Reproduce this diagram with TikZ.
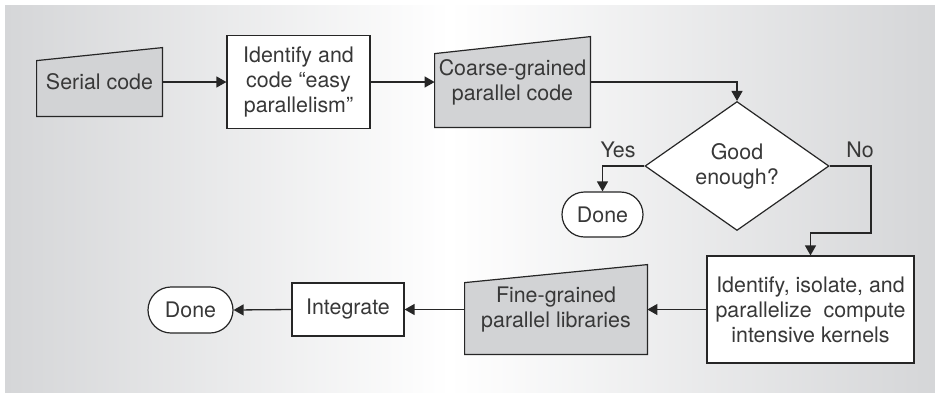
\documentclass[tikz,border=0pt]{standalone}
\usepackage{fontspec}
\setmainfont{TeX Gyre Heros}
\usetikzlibrary{arrows.meta,shapes.geometric,shapes.misc}
\definecolor{panelgray}{HTML}{D5D6D8}
\definecolor{datagray}{HTML}{D2D3D5}
\definecolor{txt}{HTML}{383838}
\pgfdeclarelayer{panel}
\pgfdeclarelayer{outline}
\pgfsetlayers{panel,outline,main}
\tikzset{
  every node/.style={font=\fontsize{10.7pt}{12.5pt}\selectfont, text=txt},
  conn/.style={draw=black!85, line width=0.65pt, -{Triangle[length=5pt,width=5.5pt]}},
  procbox/.style={draw=black!85, fill=white, line width=0.6pt, align=center, inner sep=0pt},
  datanode/.style={align=center, inner sep=0pt},
  dataoutline/.style={draw=black!85, fill=datagray, line width=0.6pt},
  termnode/.style={rounded rectangle, draw=black!85, fill=white, line width=0.6pt, inner sep=0pt},
  decision/.style={diamond, draw=black!85, fill=white, line width=0.6pt, align=center, inner sep=0pt},
  lbl/.style={inner sep=0pt}
}
\begin{document}
\begin{tikzpicture}[x=0.5pt,y=-0.5pt]
\useasboundingbox (0,0) rectangle (935,392);
% background panel: grey at both sides, fading to white in the middle
\begin{pgfonlayer}{panel}
\shade[left color=panelgray, right color=white] (5,5) rectangle (450,392);
\shade[left color=white, right color=panelgray] (449,5) rectangle (935,392);
\end{pgfonlayer}

% data (manual-input) nodes; their slanted outlines are drawn below
\node[datanode, minimum width=62.5pt, minimum height=34pt] (serial) at (99.5,82) {Serial code};
\node[datanode, minimum width=77.5pt, minimum height=45pt] (coarse) at (512.5,82) {Coarse-grained\\parallel code};
\node[datanode, minimum width=91pt, minimum height=44.5pt] (fine) at (556,309.5) {Fine-grained\\parallel libraries};

\begin{pgfonlayer}{outline}
\draw[dataoutline] (serial.south west) -- (serial.south east) -- (serial.north east) -- ([yshift=-6.5pt]serial.north west) -- cycle;
\draw[dataoutline] (coarse.south west) -- (coarse.south east) -- (coarse.north east) -- ([yshift=-8.5pt]coarse.north west) -- cycle;
\draw[dataoutline] (fine.south west) -- (fine.south east) -- (fine.north east) -- ([yshift=-9pt]fine.north west) -- cycle;
\end{pgfonlayer}

% process boxes
\node[procbox, minimum width=71.5pt, minimum height=46.5pt] (ident) at (298.5,82) {Identify and\\code “easy\\parallelism”};
\node[procbox, minimum width=103.5pt, minimum height=53.5pt] (kern) at (810.5,309.5) {Identify, isolate, and\\parallelize\ \ compute\\intensive kernels};
\node[procbox, minimum width=56pt, minimum height=26.5pt] (integ) at (348,309.5) {Integrate};

% decision
\node[decision, minimum width=92pt, minimum height=54pt] (good) at (737,166) {Good\\enough?};

% terminals
\node[termnode, minimum width=40.5pt, minimum height=22.5pt] (done1) at (602.5,214.5) {Done};
\node[termnode, minimum width=42.5pt, minimum height=23pt] (done2) at (190.5,310) {Done};

% connectors
\coordinate (nobend) at (871,233);
\draw[conn] (serial.east) -- (ident.west);
\draw[conn] (ident.east) -- (coarse.west);
\draw[conn] (coarse.east) -| (good.north);
\draw[conn] (good.west) -| (done1.north);
\draw[conn] (good.east) -| (nobend) -| (kern.north);
\draw[conn] (kern.west) -- (fine.east);
\draw[conn] (fine.west) -- (integ.east);
\draw[conn] (integ.west) -- (done2.east);

% branch labels
\node[lbl] (yes) at (618,150) {Yes};
\node[lbl] (no) at (860,150) {No};
\end{tikzpicture}
\end{document}
